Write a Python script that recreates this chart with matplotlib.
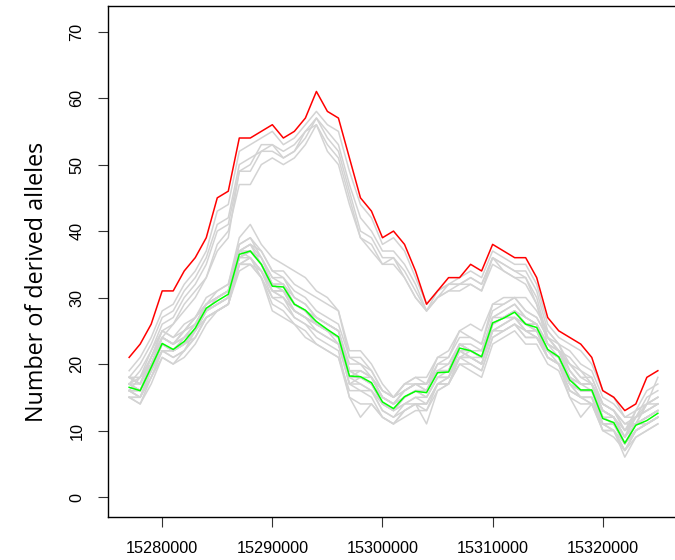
import matplotlib
matplotlib.use("Agg")
import matplotlib.pyplot as plt
from matplotlib.ticker import FixedLocator, FixedFormatter

# positions (bp), one window every 1000 bp
start_pos = 15277000
step_pos = 1000
n_points = 49
positions = [start_pos + step_pos * i for i in range(n_points)]

x_ticks = [15280000, 15290000, 15300000, 15310000, 15320000]
x_tick_labels = ["15280000", "15290000", "15300000", "15310000", "15320000"]
y_ticks = [0, 10, 20, 30, 40, 50, 60, 70]
y_tick_labels = ["0", "10", "20", "30", "40", "50", "60", "70"]
y_label = "Number of derived alleles"

red_series = [21, 23, 26, 31, 31, 34, 36, 39, 45, 46, 54, 54, 55, 56, 54, 55, 57, 61, 58, 57,
              51, 45, 43, 39, 40, 38, 34, 29, 31, 33, 33, 35, 34, 38, 37, 36, 36, 33, 27, 25,
              24, 23, 21, 16, 15, 13, 14, 18, 19]

green_series = [16.5, 16.0, 19.5, 23.1, 22.2, 23.4, 25.4, 28.4, 29.5, 30.5, 36.5, 37.0, 35.0,
                31.7, 31.6, 29.0, 28.1, 26.4, 25.2, 24.1, 18.2, 18.1, 17.2, 14.3, 13.3, 15.1,
                15.9, 15.7, 18.7, 18.8, 22.4, 22.0, 21.1, 26.2, 26.9, 27.8, 26.0, 25.5, 22.2,
                21.1, 17.6, 16.1, 16.1, 11.8, 11.2, 8.1, 10.8, 11.5, 12.6]

upper_gray_1 = [19, 21, 24, 28, 29, 32, 34, 37, 43, 44, 52, 53, 54, 55, 53, 54, 56, 58, 56, 55,
                49, 44, 42, 38, 39, 37, 33, 29, 31, 32, 33, 34, 33, 37, 36, 35, 35, 32, 26, 24,
                23, 22, 20, 16, 15, 12, 13, 16, 17]
upper_gray_2 = [18, 20, 23, 27, 28, 31, 33, 36, 41, 42, 50, 51, 52, 53, 52, 53, 55, 57, 55, 53,
                47, 42, 40, 37, 37, 35, 32, 28, 30, 32, 32, 33, 32, 36, 35, 34, 34, 31, 25, 23,
                22, 20, 19, 15, 14, 12, 12, 15, 16]
upper_gray_3 = [17, 19, 22, 26, 27, 30, 32, 35, 40, 41, 49, 50, 53, 53, 51, 52, 54, 57, 54, 52,
                46, 40, 39, 36, 36, 34, 31, 28, 30, 31, 32, 32, 31, 35, 34, 33, 33, 30, 24, 22,
                21, 19, 18, 14, 13, 11, 12, 14, 15]
upper_gray_4 = [17, 18, 21, 25, 26, 29, 31, 33, 38, 40, 47, 47, 50, 51, 50, 51, 53, 56, 53, 51,
                45, 39, 38, 35, 35, 33, 30, 28, 30, 31, 31, 32, 31, 36, 34, 33, 32, 29, 24, 22,
                20, 18, 17, 14, 13, 11, 11, 14, 15]
upper_gray_5 = [16, 18, 20, 24, 26, 28, 30, 33, 37, 39, 49, 49, 52, 52, 51, 52, 55, 56, 52, 50,
                44, 39, 37, 35, 36, 33, 30, 28, 31, 32, 32, 33, 32, 36, 35, 34, 33, 29, 23, 21,
                20, 19, 17, 13, 12, 10, 11, 14, 14]

lower_gray_1 = [18, 17, 21, 25, 24, 26, 27, 30, 31, 32, 39, 41, 38, 36, 35, 34, 33, 31, 30, 28, 21, 21, 19, 16, 15, 17, 18, 17, 21, 21, 25, 24, 23, 29, 30, 30, 28, 27, 24, 23, 19, 17, 17, 13, 12, 9, 12, 13, 14]
lower_gray_2 = [15, 14, 17, 21, 20, 21, 23, 26, 28, 29, 34, 35, 33, 29, 28, 26, 24, 23, 22, 21, 16, 16, 15, 12, 11, 13, 14, 13, 16, 17, 20, 19, 18, 23, 24, 25, 23, 23, 20, 19, 15, 14, 14, 10, 9, 7, 9, 10, 11]
lower_gray_3 = [17, 16, 20, 24, 23, 24, 26, 29, 30, 31, 37, 38, 36, 33, 32, 30, 29, 27, 26, 25, 19, 19, 18, 15, 14, 16, 17, 16, 20, 20, 23, 23, 22, 27, 28, 29, 27, 26, 23, 22, 18, 17, 17, 12, 12, 8, 11, 12, 13]
lower_gray_4 = [16, 15, 19, 22, 21, 22, 25, 28, 29, 30, 36, 36, 34, 31, 31, 28, 27, 26, 25, 23, 18, 17, 16, 14, 13, 14, 15, 15, 18, 18, 22, 21, 20, 25, 26, 27, 25, 25, 21, 20, 17, 15, 15, 11, 11, 8, 10, 11, 12]
lower_gray_5 = [18, 17, 21, 24, 23, 25, 27, 29, 30, 31, 37, 38, 37, 34, 34, 32, 31, 30, 29, 28, 22, 22, 20, 17, 15, 16, 17, 17, 19, 19, 23, 22, 21, 26, 27, 28, 27, 26, 23, 22, 19, 17, 16, 13, 12, 9, 11, 12, 13]
lower_gray_6 = [15, 15, 18, 22, 22, 23, 24, 27, 28, 29, 35, 36, 33, 28, 27, 26, 25, 23, 22, 21, 15, 14, 14, 12, 11, 12, 13, 13, 17, 17, 21, 20, 19, 24, 25, 26, 24, 24, 21, 20, 16, 15, 15, 10, 10, 7, 10, 11, 12]
lower_gray_7 = [17, 16, 19, 24, 23, 24, 26, 29, 30, 31, 38, 39, 36, 32, 31, 29, 28, 26, 25, 24, 19, 18, 18, 15, 14, 15, 16, 16, 19, 19, 23, 22, 21, 27, 27, 28, 26, 26, 22, 21, 18, 16, 16, 12, 11, 8, 11, 12, 13]
lower_gray_8 = [16, 16, 20, 23, 22, 24, 25, 28, 29, 30, 36, 37, 35, 32, 32, 29, 28, 26, 25, 24, 17, 18, 17, 14, 13, 15, 16, 16, 19, 19, 22, 22, 21, 26, 27, 28, 26, 25, 22, 21, 17, 16, 16, 12, 11, 8, 11, 11, 12]
lower_gray_9 = [17, 16, 20, 23, 22, 23, 25, 28, 29, 30, 36, 37, 35, 31, 31, 28, 27, 26, 25, 24, 18, 18, 17, 14, 13, 14, 14, 11, 16, 17, 21, 22, 21, 26, 27, 28, 26, 26, 22, 21, 18, 17, 17, 13, 12, 9, 13, 14, 18]
lower_gray_10 = [16, 15, 19, 23, 22, 23, 25, 28, 30, 31, 37, 37, 35, 32, 32, 29, 28, 27, 26, 25, 19, 18, 17, 15, 14, 16, 17, 17, 19, 20, 23, 22, 21, 25, 26, 27, 25, 24, 22, 21, 17, 16, 16, 11, 10, 7, 10, 11, 12]
lower_gray_11 = [18, 17, 20, 24, 23, 25, 26, 29, 30, 31, 36, 37, 36, 33, 33, 30, 29, 27, 26, 25, 20, 20, 18, 16, 15, 17, 18, 18, 21, 22, 25, 26, 25, 29, 29, 30, 28, 27, 24, 22, 19, 17, 17, 14, 13, 10, 12, 13, 14]
lower_gray_12 = [15, 14, 18, 21, 20, 22, 24, 27, 28, 29, 35, 35, 33, 30, 30, 27, 26, 25, 24, 23, 17, 16, 16, 13, 12, 13, 14, 14, 17, 17, 20, 20, 19, 24, 25, 26, 24, 24, 21, 20, 16, 15, 14, 10, 10, 6, 9, 10, 11]
lower_gray_13 = [17, 16, 19, 22, 22, 24, 26, 28, 29, 30, 37, 36, 34, 31, 30, 28, 27, 26, 25, 24, 18, 19, 18, 15, 14, 15, 16, 15, 18, 18, 22, 21, 20, 26, 27, 27, 26, 25, 22, 21, 17, 16, 16, 12, 11, 8, 11, 12, 13]
lower_gray_14 = [16, 15, 19, 23, 22, 23, 25, 27, 28, 29, 35, 36, 34, 30, 29, 27, 26, 24, 23, 22, 15, 12, 14, 12, 11, 13, 14, 14, 17, 18, 21, 21, 20, 25, 26, 27, 25, 25, 22, 20, 16, 15, 14, 11, 10, 8, 10, 11, 12]
lower_gray_15 = [17, 17, 21, 24, 23, 25, 27, 29, 31, 32, 38, 39, 37, 34, 33, 31, 30, 28, 27, 26, 21, 20, 19, 16, 15, 17, 17, 17, 20, 21, 24, 24, 23, 28, 29, 30, 30, 28, 25, 23, 20, 18, 18, 14, 13, 10, 13, 14, 15]
lower_gray_16 = [16, 16, 19, 23, 22, 23, 25, 28, 29, 30, 36, 37, 35, 32, 31, 29, 28, 26, 25, 24, 18, 18, 17, 14, 13, 15, 16, 15, 18, 19, 22, 21, 21, 26, 27, 27, 26, 25, 21, 20, 15, 12, 14, 11, 11, 8, 11, 12, 13]
lower_gray_17 = [18, 18, 22, 25, 24, 25, 27, 29, 30, 31, 37, 38, 35, 32, 32, 29, 28, 27, 26, 25, 19, 19, 18, 15, 14, 16, 17, 16, 19, 19, 23, 22, 22, 27, 28, 29, 27, 26, 23, 22, 18, 17, 17, 13, 12, 9, 12, 13, 14]
lower_gray_18 = [15, 15, 18, 22, 21, 22, 24, 27, 28, 29, 35, 35, 34, 31, 30, 28, 27, 25, 24, 23, 17, 17, 16, 13, 12, 14, 15, 14, 17, 18, 21, 21, 20, 25, 25, 26, 25, 24, 21, 20, 17, 15, 15, 11, 10, 7, 10, 11, 12]

gray_series = [upper_gray_1, upper_gray_2, upper_gray_3, upper_gray_4, upper_gray_5,
               lower_gray_1, lower_gray_2, lower_gray_3, lower_gray_4, lower_gray_5,
               lower_gray_6, lower_gray_7, lower_gray_8, lower_gray_9, lower_gray_10,
               lower_gray_11, lower_gray_12, lower_gray_13, lower_gray_14, lower_gray_15,
               lower_gray_16, lower_gray_17, lower_gray_18]

W, H, DPI = 675, 560, 100
fig = plt.figure(figsize=(W / DPI, H / DPI), dpi=DPI)
ax_left, ax_right, ax_top, ax_bottom = 108, 679, 5.7, 516.7
ax = fig.add_axes([ax_left / W, 1 - ax_bottom / H, (ax_right - ax_left) / W, (ax_bottom - ax_top) / H])

lw = 1.1
for s in gray_series:
    ax.plot(positions, s, color="#D3D3D3", lw=lw)
ax.plot(positions, red_series, color="#FF0000", lw=lw)
ax.plot(positions, green_series, color="#00FF00", lw=lw)

ax.set_xlim(15275080, 15326920)
ax.set_ylim(-2.96, 73.9)

tick_family = ["Liberation Sans", "DejaVu Sans"]
tick_size = 11.7
ax.xaxis.set_major_locator(FixedLocator(x_ticks))
ax.xaxis.set_major_formatter(FixedFormatter(x_tick_labels))
ax.yaxis.set_major_locator(FixedLocator(y_ticks))
ax.yaxis.set_major_formatter(FixedFormatter(y_tick_labels))
for lab in ax.get_xticklabels():
    lab.set_fontfamily(tick_family)
    lab.set_fontsize(tick_size)
for lab in ax.get_yticklabels():
    lab.set_fontfamily(tick_family)
    lab.set_fontsize(tick_size)
    lab.set_rotation(90)
    lab.set_va("center")

ax.tick_params(axis="x", length=7, width=0.8, pad=10.5, color="#333333")
ax.tick_params(axis="y", length=7, width=0.8, pad=10.0, color="#333333")
for sp in ax.spines.values():
    sp.set_linewidth(1.0)
    sp.set_color("black")

fig.text(37 / W, 1 - 282 / H, y_label, rotation=90,
         ha="center", va="center", fontsize=16.8, family=["Open Sans", "DejaVu Sans"])

fig.savefig("out.png", dpi=DPI)
